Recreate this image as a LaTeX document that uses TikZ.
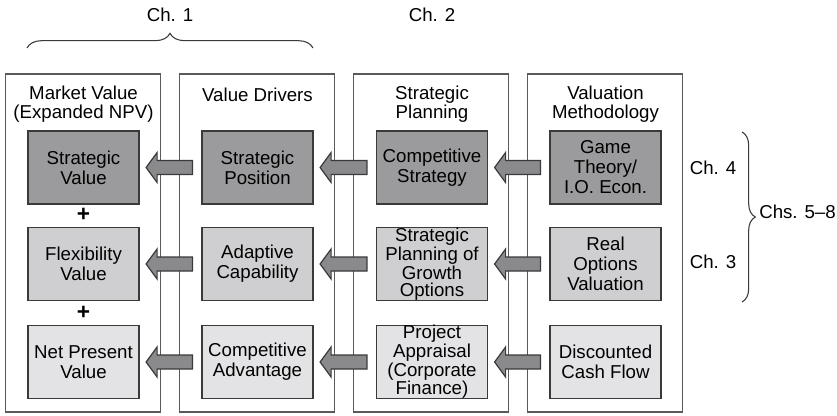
\documentclass[tikz,border=0pt]{standalone}
\usepackage{fontspec}
\setmainfont{Liberation Sans}
\usetikzlibrary{calc,decorations.pathreplacing}
\definecolor{darkf}{HTML}{9B9B9D}
\definecolor{midf}{HTML}{CFCFD1}
\definecolor{lightf}{HTML}{E3E3E5}
\definecolor{arrowf}{HTML}{8A8A8C}
\definecolor{edgec}{HTML}{3A3A3A}
\definecolor{panelc}{HTML}{5A5A5A}
\newcommand\fatarrow[2]{%
  \path[fatarr] let \p1=($(#1.west)+(-9,0)$), \p2=($(#2.east)+(6.5,0)$) in
    (\x1,\y1-5.25pt) -- (\x2+8.25pt,\y1-5.25pt) -- (\x2+8.25pt,\y1-11.25pt) --
    (\x2,\y1) -- (\x2+8.25pt,\y1+11.25pt) -- (\x2+8.25pt,\y1+5.25pt) --
    (\x1,\y1+5.25pt) -- cycle;}
\begin{document}
\begin{tikzpicture}[x=0.75pt,y=-0.75pt,
  every node/.style={font=\fontsize{14}{15}\selectfont, text=black},
  panel/.style={draw=panelc, line width=0.9pt, minimum width=155*0.75pt, minimum height=338*0.75pt, inner sep=0pt},
  box/.style={draw=edgec, line width=0.9pt, minimum width=111*0.75pt, minimum height=73*0.75pt, align=center, inner sep=0pt},
  tight/.style={font=\fontsize{14}{12.8}\selectfont},
  head/.style={align=center, inner sep=0pt, font=\fontsize{14}{14}\selectfont},
  fatarr/.style={draw=edgec, line width=0.9pt, fill=arrowf, line join=miter},
  bracestyle/.style={draw=edgec, line width=0.8pt, decorate},
  plus/.style={inner sep=0pt, font=\fontsize{17}{17}\bfseries\selectfont}]
\useasboundingbox (0,0) rectangle (837,415);
% panels
\node[panel] (p1) at (83,243) {};
\node[panel] (p2) at (257,243) {};
\node[panel] (p3) at (431,243) {};
\node[panel] (p4) at (605,243) {};
% headers
\node[head] (h1) at (83.5,104) {Market Value\\(Expanded NPV)};
\node[head] (h2) at (257.5,95) {Value Drivers};
\node[head] (h3) at (432,104) {Strategic\\Planning};
\node[head] (h4) at (605.5,104) {Valuation\\Methodology};
% boxes
\node[box, fill=darkf] (b11) at (83.5,167.5) {Strategic\\Value};
\node[box, fill=midf] (b21) at (83.5,264) {Flexibility\\Value};
\node[box, fill=lightf] (b31) at (83.5,362) {Net Present\\Value};
\node[box, fill=darkf] (b12) at (257.5,167.5) {Strategic\\Position};
\node[box, fill=midf] (b22) at (257.5,264) {Adaptive\\Capability};
\node[box, fill=lightf] (b32) at (257.5,362) {Competitive\\Advantage};
\node[box, fill=darkf] (b13) at (432,167.5) {Competitive\\Strategy};
\node[box, fill=midf, tight] (b23) at (432,264) {Strategic\\Planning of\\Growth\\Options};
\node[box, fill=lightf, tight] (b33) at (432,362) {Project\\Appraisal\\(Corporate\\Finance)};
\node[box, fill=darkf] (b14) at (605.5,167.5) {Game\\Theory/\\I.O. Econ.};
\node[box, fill=midf] (b24) at (605.5,264) {Real\\Options\\Valuation};
\node[box, fill=lightf] (b34) at (605.5,362) {Discounted\\Cash Flow};
% plus signs
\node[plus] (pl1) at (83.5,215) {+};
\node[plus] (pl2) at (83.5,313) {+};
% arrows
\fatarrow{b12}{b11}
\fatarrow{b22}{b21}
\fatarrow{b32}{b31}
\fatarrow{b13}{b12}
\fatarrow{b23}{b22}
\fatarrow{b33}{b32}
\fatarrow{b14}{b13}
\fatarrow{b24}{b23}
\fatarrow{b34}{b33}
% braces and chapter labels
\draw[bracestyle, decoration={brace, amplitude=11pt}] (27,48) -- (313,48);
\draw[bracestyle, decoration={brace, amplitude=10pt}] (742,132) -- (742,302);
\node (ch1) at (170,15) {Ch. 1};
\node (ch2) at (432,15) {Ch. 2};
\node (ch4) at (713,168) {Ch. 4};
\node (ch3) at (713,262) {Ch. 3};
\node[anchor=west, inner sep=0pt] (ch58) at (759,212) {Chs. 5--8};
\end{tikzpicture}
\end{document}
